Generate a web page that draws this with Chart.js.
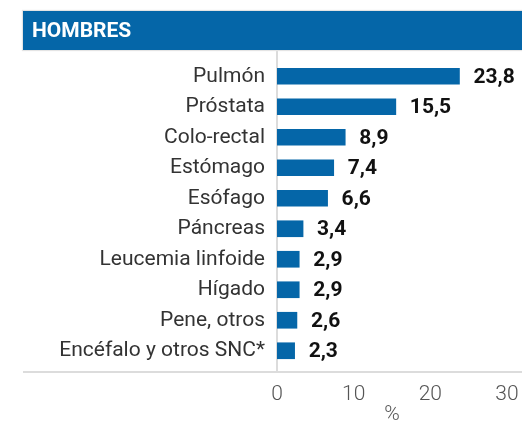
<!DOCTYPE html>
<html>
<head>
<meta charset="utf-8">
<script src="https://cdn.jsdelivr.net/npm/chart.js@4/dist/chart.umd.min.js"></script>
<style>
  html, body { margin: 0; padding: 0; background: #fff; }
  #wrap { position: relative; width: 522px; height: 429px; overflow: hidden; }
  #header {
    position: absolute; left: 23px; top: 11px; width: 499px; height: 39px;
    background: #0566a8; color: #fff; font-family: Roboto, sans-serif;
    font-weight: 700; font-size: 21px; line-height: 39px; padding-left: 9px;
    box-sizing: border-box; box-shadow: 0 0 1px 1px #e4e4e4;
  }
  canvas { position: absolute; left: 0; top: 0; }
</style>
</head>
<body>
<div id="wrap">
  <canvas id="c" width="522" height="429"></canvas>
  <div id="header"></div>
</div>
<script>
const chartTitle = 'HOMBRES';
const categories = ['Pulmón', 'Próstata', 'Colo-rectal', 'Estómago', 'Esófago', 'Páncreas', 'Leucemia linfoide', 'Hígado', 'Pene, otros', 'Encéfalo y otros SNC*'];
const values = [23.8, 15.5, 8.9, 7.4, 6.6, 3.4, 2.9, 2.9, 2.6, 2.3];
const xTicks = [0, 10, 20, 30];
const xAxisTitle = '%';

document.getElementById('header').textContent = chartTitle;

const BLUE = '#0566a8';

const linesPlugin = {
  id: 'lines',
  beforeDatasetsDraw(chart) {
    const ctx = chart.ctx;
    const x0 = chart.scales.x.getPixelForValue(0);
    ctx.save();
    ctx.strokeStyle = '#dcdcdc';
    ctx.lineWidth = 2;
    ctx.beginPath();
    ctx.moveTo(x0, 50);
    ctx.lineTo(x0, 373);
    ctx.stroke();
    ctx.beginPath();
    ctx.moveTo(23, 372);
    ctx.lineTo(522, 372);
    ctx.stroke();
    ctx.restore();
  }
};

const valueLabels = {
  id: 'valueLabels',
  afterDatasetsDraw(chart) {
    const ctx = chart.ctx;
    const meta = chart.getDatasetMeta(0);
    ctx.save();
    ctx.font = '700 21px Roboto, sans-serif';
    ctx.fillStyle = '#111';
    ctx.textAlign = 'left';
    ctx.textBaseline = 'middle';
    meta.data.forEach((bar, i) => {
      const txt = values[i].toFixed(1).replace('.', ',');
      ctx.fillText(txt, bar.x + 14, bar.y + 1);
    });
    ctx.restore();
  }
};

new Chart(document.getElementById('c'), {
  type: 'bar',
  data: {
    labels: categories,
    datasets: [{
      data: values,
      backgroundColor: BLUE,
      borderWidth: 0,
      barThickness: 16
    }]
  },
  options: {
    indexAxis: 'y',
    responsive: false,
    animation: false,
    devicePixelRatio: 1,
    layout: { padding: { top: 61, right: 15, bottom: 0, left: 0 } },
    plugins: { legend: { display: false }, tooltip: { enabled: false } },
    scales: {
      x: {
        min: 0, max: 30,
        afterBuildTicks(scale) { scale.ticks = xTicks.map(v => ({ value: v })); },
        afterFit(scale) { scale.height = 63; scale.paddingRight = 0; scale.paddingLeft = 0; },
        grid: { display: false, drawTicks: false },
        border: { display: false },
        ticks: {
          padding: 16,
          color: '#555',
          font: { family: 'Roboto', size: 21, weight: 300 }
        },
        title: {
          display: true,
          text: xAxisTitle,
          color: '#555',
          padding: { top: 0, bottom: 2 },
          font: { family: 'Roboto', size: 21, weight: 300 }
        }
      },
      y: {
        afterFit(scale) { scale.width = 277; scale.paddingTop = 0; scale.paddingBottom = 0; },
        grid: { display: false, drawTicks: false },
        border: { display: false },
        ticks: {
          padding: 12,
          color: '#333',
          font: { family: 'Roboto', size: 21, weight: 400 }
        }
      }
    }
  },
  plugins: [linesPlugin, valueLabels]
});
</script>
</body>
</html>
